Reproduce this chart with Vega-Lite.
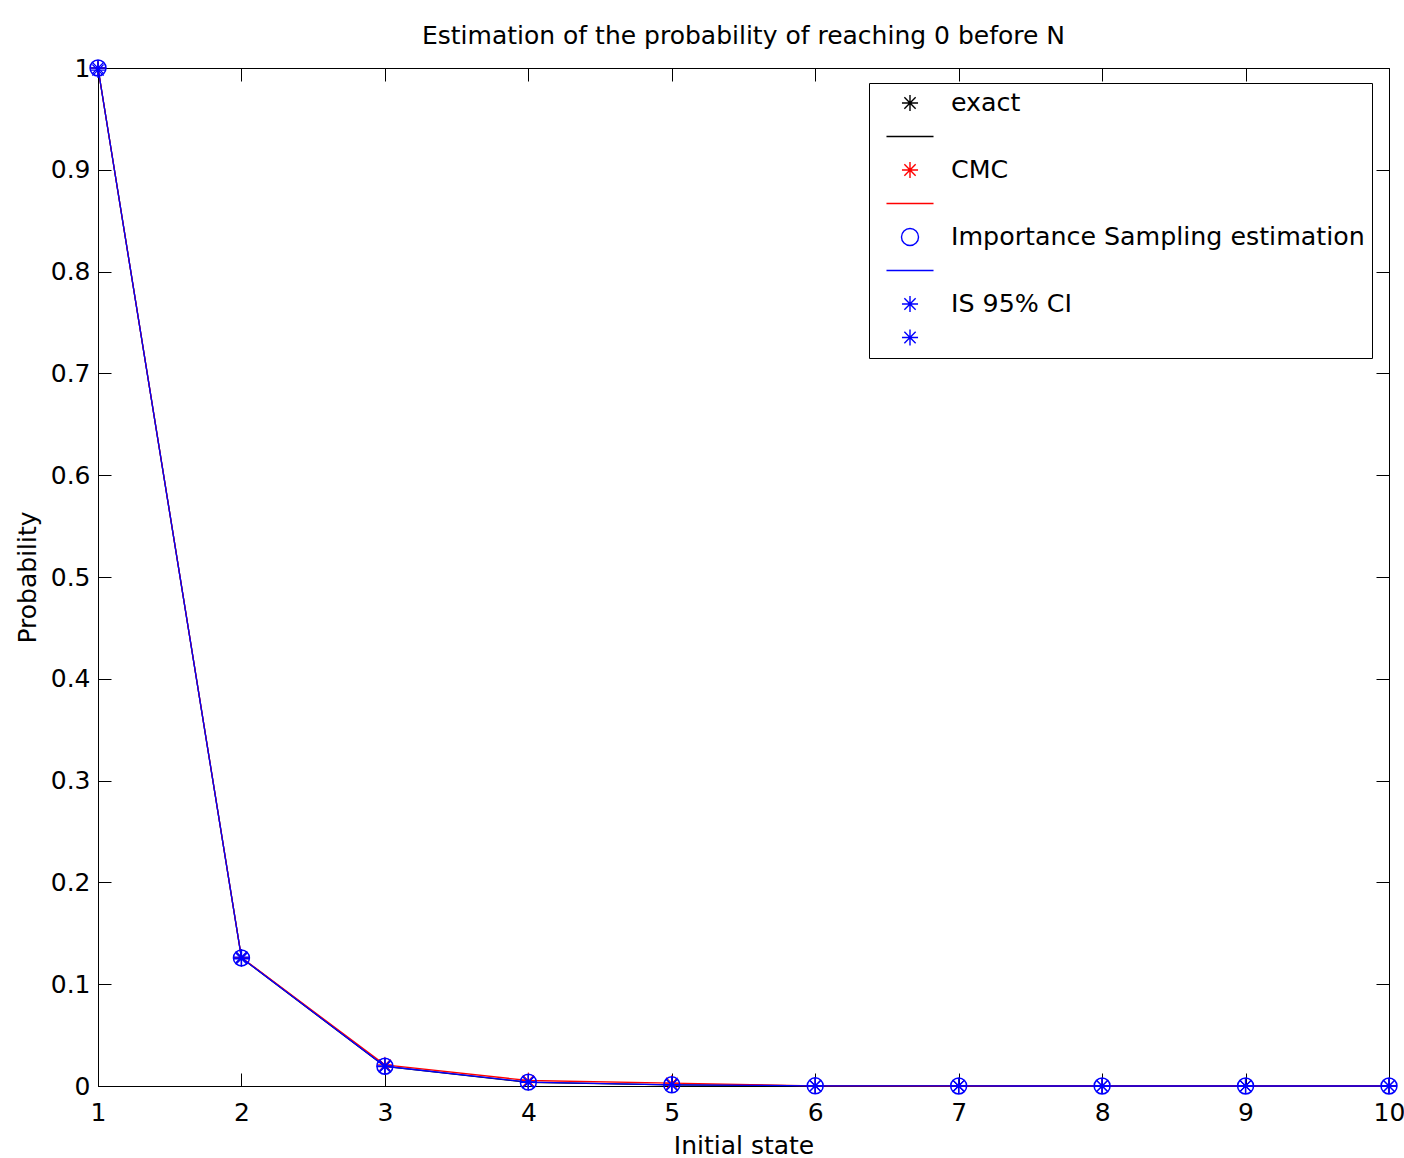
{
  "$schema": "https://vega.github.io/schema/vega-lite/v6.json",
  "autosize": {"type": "none"},
  "padding": {"left": 98, "top": 68, "right": 15, "bottom": 72},
  "width": 1291,
  "height": 1018,
  "background": "white",
  "title": {
    "text": "Estimation of the probability of reaching 0 before N",
    "font": "DejaVu Sans",
    "fontSize": 25,
    "fontWeight": "normal",
    "color": "black",
    "offset": 7
  },
  "config": {
    "view": {"stroke": "black", "strokeWidth": 1},
    "axis": {
      "labelFont": "DejaVu Sans",
      "labelFontSize": 25,
      "labelColor": "black",
      "titleFont": "DejaVu Sans",
      "titleFontSize": 25,
      "titleFontWeight": "normal",
      "titleColor": "black",
      "tickColor": "black",
      "tickSize": -13,
      "tickWidth": 1,
      "domainColor": "black",
      "domainWidth": 1,
      "grid": false,
      "labelFlush": false,
      "labelOverlap": false
    },
    "legend": {
      "orient": "none",
      "legendX": 771,
      "legendY": 15,
      "strokeColor": "black",
      "fillColor": "white",
      "padding": 7,
      "labelFont": "DejaVu Sans",
      "labelFontSize": 25.3,
      "labelColor": "black",
      "labelLimit": 1000,
      "labelOffset": 28,
      "symbolOffset": 21,
      "symbolSize": 576,
      "symbolStrokeWidth": 1.4,
      "symbolOpacity": 1,
      "rowPadding": 6.5
    }
  },
  "data": {
    "values": [
      {"state": 1, "exact": 1, "cmc": 1, "is": 1, "lo": 0.998, "hi": 1.0},
      {"state": 2, "exact": 0.1258, "cmc": 0.1262, "is": 0.1258, "lo": 0.1250, "hi": 0.1266},
      {"state": 3, "exact": 0.0192, "cmc": 0.0208, "is": 0.0194, "lo": 0.0190, "hi": 0.0198},
      {"state": 4, "exact": 0.0036, "cmc": 0.0054, "is": 0.0038, "lo": 0.0036, "hi": 0.0040},
      {"state": 5, "exact": 0.0012, "cmc": 0.0028, "is": 0.0012, "lo": 0.0011, "hi": 0.0013},
      {"state": 6, "exact": 0.0002, "cmc": 0.0002, "is": 0.0002, "lo": 0.0002, "hi": 0.0002},
      {"state": 7, "exact": 0.00003, "cmc": 0, "is": 0.00003, "lo": 0.00003, "hi": 0.00003},
      {"state": 8, "exact": 0, "cmc": 0, "is": 0, "lo": 0, "hi": 0},
      {"state": 9, "exact": 0, "cmc": 0, "is": 0, "lo": 0, "hi": 0},
      {"state": 10, "exact": 0, "cmc": 0, "is": 0, "lo": 0, "hi": 0}
    ]
  },
  "encoding": {
    "x": {"field": "state", "type": "quantitative", "scale": {"domain": [1, 10], "nice": false, "zero": false}}
  },
  "layer": [
    {
      "mark": {"type": "line", "color": "black", "strokeWidth": 1.3},
      "encoding": {
        "x": {"field": "state", "type": "quantitative", "title": "Initial state",
              "axis": {"orient": "bottom", "values": [1,2,3,4,5,6,7,8,9,10], "format": "d", "labelPadding": 27, "titlePadding": 8}},
        "y": {"field": "exact", "type": "quantitative", "title": "Probability",
              "scale": {"domain": [0, 1], "nice": false},
              "axis": {"orient": "left", "values": [0,0.1,0.2,0.3,0.4,0.5,0.6,0.7,0.8,0.9,1], "format": "~g", "labelPadding": 21, "titlePadding": 10}}
      }
    },
    {
      "mark": {"type": "point", "color": "black", "filled": false, "opacity": 1, "strokeWidth": 1, "size": 256,
               "shape": "M-1,0L1,0M0,-1L0,1M-0.7,-0.7L0.7,0.7M-0.7,0.7L0.7,-0.7"},
      "encoding": {"x": {"field": "state", "type": "quantitative", "axis": null}, "y": {"field": "exact", "type": "quantitative", "axis": null}}
    },
    {
      "mark": {"type": "line", "color": "#ff0000", "strokeWidth": 1.3},
      "encoding": {"x": {"field": "state", "type": "quantitative", "axis": null}, "y": {"field": "cmc", "type": "quantitative", "axis": null}}
    },
    {
      "mark": {"type": "point", "color": "#ff0000", "filled": false, "opacity": 1, "strokeWidth": 1, "size": 256,
               "shape": "M-1,0L1,0M0,-1L0,1M-0.7,-0.7L0.7,0.7M-0.7,0.7L0.7,-0.7"},
      "encoding": {"x": {"field": "state", "type": "quantitative", "axis": null}, "y": {"field": "cmc", "type": "quantitative", "axis": null}}
    },
    {
      "mark": {"type": "line", "color": "#0000ff", "strokeWidth": 1.3},
      "encoding": {"x": {"field": "state", "type": "quantitative", "axis": null}, "y": {"field": "is", "type": "quantitative", "axis": null}}
    },
    {
      "mark": {"type": "point", "color": "#0000ff", "filled": false, "opacity": 1, "strokeWidth": 1.5, "size": 254, "shape": "circle"},
      "encoding": {"x": {"field": "state", "type": "quantitative", "axis": null}, "y": {"field": "is", "type": "quantitative", "axis": null}}
    },
    {
      "mark": {"type": "point", "color": "#0000ff", "filled": false, "opacity": 1, "strokeWidth": 1.3, "size": 256,
               "shape": "M-1,0L1,0M0,-1L0,1M-0.7,-0.7L0.7,0.7M-0.7,0.7L0.7,-0.7"},
      "encoding": {"x": {"field": "state", "type": "quantitative", "axis": null}, "y": {"field": "lo", "type": "quantitative", "axis": null}}
    },
    {
      "mark": {"type": "point", "color": "#0000ff", "filled": false, "opacity": 1, "strokeWidth": 1.3, "size": 256,
               "shape": "M-1,0L1,0M0,-1L0,1M-0.7,-0.7L0.7,0.7M-0.7,0.7L0.7,-0.7"},
      "encoding": {"x": {"field": "state", "type": "quantitative", "axis": null}, "y": {"field": "hi", "type": "quantitative", "axis": null}}
    },
    {
      "transform": [{"filter": "false"}],
      "mark": {"type": "point", "filled": false, "opacity": 1, "strokeWidth": 1},
      "encoding": {
        "x": {"field": "state", "type": "quantitative",
              "axis": {"orient": "top", "labels": false, "title": null, "domain": false, "values": [1,2,3,4,5,6,7,8,9,10]}},
        "y": {"field": "is", "type": "quantitative",
              "axis": {"orient": "right", "labels": false, "title": null, "domain": false, "values": [0,0.1,0.2,0.3,0.4,0.5,0.6,0.7,0.8,0.9,1]}},
        "color": {"field": "key", "type": "nominal", "title": null,
                  "scale": {"domain": ["exact", "_exact", "CMC", "_CMC", "Importance Sampling estimation", "_IS", "IS 95% CI", "_CI"],
                            "range": ["black", "black", "#ff0000", "#ff0000", "#0000ff", "#0000ff", "#0000ff", "#0000ff"]},
                  "legend": {"labelExpr": "indexof(datum.label, '_') == 0 ? '' : datum.label"}},
        "shape": {"field": "key", "type": "nominal", "title": null,
                  "scale": {"domain": ["exact", "_exact", "CMC", "_CMC", "Importance Sampling estimation", "_IS", "IS 95% CI", "_CI"],
                            "range": [
                              "M-0.67,0L0.67,0M0,-0.67L0,0.67M-0.47,-0.47L0.47,0.47M-0.47,0.47L0.47,-0.47",
                              "M-1.96,0L1.96,0",
                              "M-0.67,0L0.67,0M0,-0.67L0,0.67M-0.47,-0.47L0.47,0.47M-0.47,0.47L0.47,-0.47",
                              "M-1.96,0L1.96,0",
                              "M0.71,0A0.71,0.71 0 1,1 -0.71,0A0.71,0.71 0 1,1 0.71,0Z",
                              "M-1.96,0L1.96,0",
                              "M-0.67,0L0.67,0M0,-0.67L0,0.67M-0.47,-0.47L0.47,0.47M-0.47,0.47L0.47,-0.47",
                              "M-0.67,0L0.67,0M0,-0.67L0,0.67M-0.47,-0.47L0.47,0.47M-0.47,0.47L0.47,-0.47"
                            ]},
                  "legend": {"labelExpr": "indexof(datum.label, '_') == 0 ? '' : datum.label"}}
      }
    }
  ],
  "resolve": {"axis": {"x": "independent", "y": "independent"}}
}
